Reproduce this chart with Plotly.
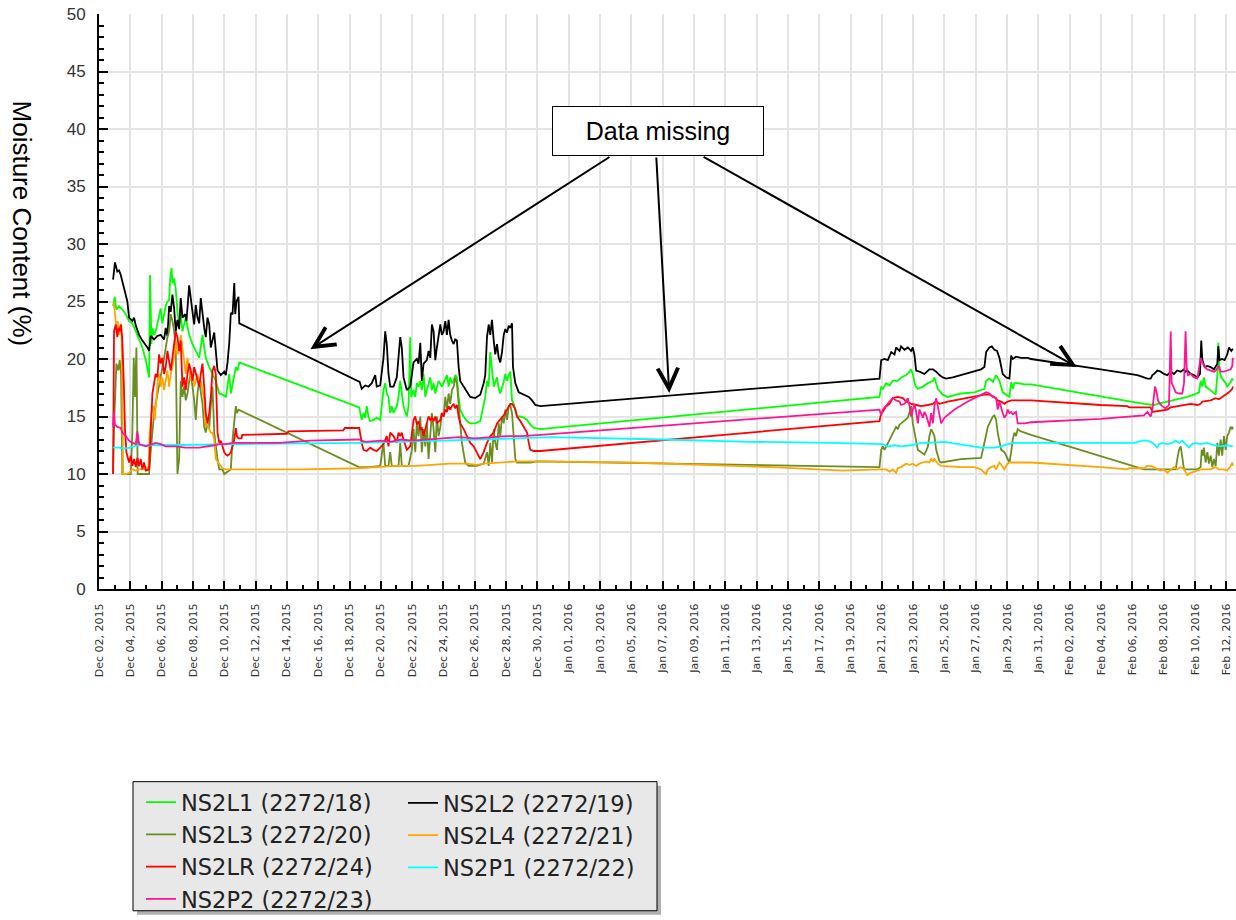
import pandas as pd
import plotly.graph_objects as go

START = pd.Timestamp("2015-12-02")

# x values are day offsets from Dec 02, 2015; y values are moisture content (%)

# NS2L1 (2272/18)
l1_day = [0.90, 1.00, 1.11, 1.28, 1.49, 1.71, 1.92, 2.13, 2.35, 2.56, 2.77, 2.99, 3.20, 3.26, 3.35,
          3.41, 3.52, 3.62, 3.80, 3.94, 4.05, 4.16, 4.26, 4.37, 4.48, 4.54, 4.63, 4.69, 4.80, 4.90,
          5.01, 5.12, 5.22, 5.33, 5.44, 5.54, 5.76, 5.97, 6.18, 6.40, 6.61, 6.72, 6.82, 7.04, 7.25,
          7.46, 7.68, 7.89, 8.10, 8.21, 8.32, 8.42, 8.53, 8.64, 8.74, 8.85, 8.96, 16.62, 16.78, 16.89,
          17.00, 17.10, 17.21, 17.32, 17.53, 17.74, 17.96, 18.06, 18.17, 18.28, 18.38, 18.49, 18.60,
          18.70, 18.81, 19.02, 19.13, 19.24, 19.34, 19.45, 19.66, 19.77, 19.88, 19.94, 20.09, 20.20,
          20.30, 20.41, 20.52, 20.62, 20.73, 20.84, 20.94, 21.16, 21.26, 21.37, 21.48, 21.58, 21.69,
          21.90, 22.01, 22.22, 22.33, 22.43, 22.54, 22.65, 22.75, 22.86, 22.97, 23.07, 23.29, 23.50,
          23.71, 24.03, 24.35, 24.57, 24.67, 24.78, 24.89, 24.99, 25.10, 25.21, 25.42, 25.53, 25.63,
          25.85, 25.95, 26.06, 26.17, 26.27, 26.38, 26.49, 26.70, 26.91, 27.13, 27.34, 27.55, 27.77,
          28.19, 49.85, 49.96, 50.06, 50.28, 50.49, 50.70, 51.02, 51.23, 51.55, 51.77, 51.87, 51.98,
          52.13, 52.30, 52.62, 52.94, 53.26, 53.36, 53.57, 53.89, 54.21, 55.06, 55.91, 56.55, 56.66,
          56.87, 57.09, 57.30, 57.51, 57.72, 57.94, 58.15, 58.26, 58.36, 58.47, 58.68, 59.11, 59.53,
          66.74, 67.17, 67.38, 67.60, 67.91, 68.23, 68.66, 69.09, 69.51, 69.94, 70.26, 70.36, 70.47,
          70.57, 70.68, 70.89, 71.11, 71.32, 71.43, 71.49, 71.57, 71.68, 71.85, 71.96, 72.06, 72.28,
          72.38, 72.42]
l1_val = [24.6, 25.4, 24.3, 24.6, 24.3, 23.9, 23.3, 23.1, 22.4, 21.7, 21.0, 19.9, 18.4, 27.3, 21.3,
          22.7, 22.1, 22.4, 23.6, 24.4, 23.1, 23.9, 24.6, 25.0, 25.1, 26.9, 27.9, 26.6, 27.0, 26.1,
          24.1, 23.0, 23.9, 22.4, 23.0, 23.6, 22.1, 21.3, 20.7, 20.1, 22.1, 21.0, 20.1, 19.3, 18.7,
          18.1, 17.0, 16.9, 16.7, 17.6, 18.7, 17.0, 17.9, 18.7, 19.3, 19.0, 19.7, 15.8, 14.7, 15.3,
          14.9, 15.9, 15.0, 14.6, 14.7, 14.9, 14.7, 15.9, 17.3, 17.9, 17.0, 16.7, 15.3,
          15.9, 15.3, 15.9, 16.7, 18.1, 17.0, 15.9, 15.0, 15.9, 21.9, 16.7, 17.3, 16.7,
          17.9, 17.6, 18.1, 17.3, 18.7, 16.7, 17.3, 18.4, 17.3, 17.9, 17.0, 17.6, 18.1,
          17.6, 17.9, 18.6, 17.6, 18.4, 17.9, 18.1, 18.6, 18.4, 16.7, 15.6, 15.0, 14.6,
          14.4, 14.4, 14.6, 16.1, 16.7, 18.1, 17.6, 20.6, 18.7, 17.6, 18.4, 17.4, 17.0,
          18.0, 18.7, 18.1, 18.6, 18.9, 16.4, 16.1, 15.0, 15.0, 14.9, 14.7, 14.3, 14.0,
          13.9, 16.7, 17.6, 17.4, 17.9, 17.7, 18.1, 18.1, 18.4, 18.6, 18.9, 19.1, 18.7,
          17.7, 17.4, 17.6, 17.9, 18.1, 18.4, 17.4, 16.9, 16.7, 17.0, 17.1, 17.4, 18.1,
          18.3, 18.0, 18.6, 18.1, 17.1, 16.9, 16.7, 18.0, 17.4, 17.9, 17.9, 17.8, 17.8,
          16.1, 16.0, 16.0, 16.1, 16.2, 16.3, 16.4, 16.6, 16.7, 16.9, 17.1, 18.1, 17.6,
          18.4, 17.6, 17.4, 17.1, 16.9, 18.6, 21.4, 19.0, 18.4, 18.1, 17.9, 17.6, 18.0,
          18.3, 18.1]

# NS2L2 (2272/19)
l2_day = [0.90, 1.02, 1.17, 1.28, 1.39, 1.49, 1.60, 1.81, 1.92, 2.13, 2.24, 2.35, 2.56, 2.77, 3.09,
          3.20, 3.30, 3.52, 3.73, 3.94, 4.16, 4.26, 4.37, 4.48, 4.58, 4.69, 4.80, 4.90, 5.01, 5.12,
          5.22, 5.33, 5.50, 5.59, 5.76, 5.86, 5.97, 6.08, 6.18, 6.29, 6.40, 6.50, 6.61, 6.72, 6.82,
          6.93, 7.04, 7.14, 7.36, 7.46, 7.57, 7.78, 8.00, 8.10, 8.21, 8.32, 8.42, 8.53, 8.64, 8.70,
          8.78, 8.91, 8.96, 16.65, 16.78, 17.00, 17.21, 17.42, 17.64, 17.74, 17.96, 18.17, 18.28,
          18.38, 18.49, 18.60, 18.81, 19.02, 19.24, 19.34, 19.45, 19.66, 19.88, 20.09, 20.30, 20.41,
          20.52, 20.62, 20.73, 20.94, 21.05, 21.16, 21.26, 21.37, 21.48, 21.58, 21.80, 21.90, 22.01,
          22.12, 22.22, 22.33, 22.43, 22.54, 22.65, 22.75, 22.86, 22.97, 23.07, 23.29, 23.50, 23.71,
          24.03, 24.35, 24.57, 24.67, 24.78, 24.89, 24.99, 25.10, 25.21, 25.31, 25.42, 25.53, 25.63,
          25.74, 25.85, 25.95, 26.06, 26.17, 26.27, 26.38, 26.44, 26.59, 26.81, 27.13, 27.45, 27.66,
          27.87, 28.19, 49.85, 49.96, 50.17, 50.38, 50.60, 50.81, 50.91, 51.13, 51.23, 51.45, 51.66,
          51.87, 51.98, 52.09, 52.19, 52.40, 52.72, 53.04, 53.26, 53.47, 53.68, 53.89, 54.11, 54.53,
          55.06, 55.70, 56.34, 56.55, 56.66, 56.87, 57.02, 57.19, 57.36, 57.51, 57.72, 57.94, 58.15,
          58.26, 58.36, 58.57, 58.89, 59.32, 59.53, 63.98, 64.83, 65.68, 66.32, 66.74, 66.96, 67.17,
          67.28, 67.38, 67.60, 67.81, 68.02, 68.23, 68.45, 68.66, 68.87, 69.09, 69.30, 69.40, 69.51,
          69.72, 69.94, 70.15, 70.32, 70.40, 70.47, 70.62, 70.79, 71.00, 71.21, 71.43, 71.49, 71.57,
          71.74, 71.89, 72.06, 72.17, 72.32, 72.42]
l2_val = [26.9, 28.4, 27.6, 27.7, 27.3, 26.7, 26.1, 25.0, 23.6, 23.3, 23.6, 22.9, 22.1, 21.6, 21.0,
          20.7, 22.0, 21.7, 22.0, 22.1, 21.7, 22.7, 22.0, 24.6, 24.1, 25.6, 24.4, 22.4, 23.4, 22.6,
          25.3, 23.6, 23.9, 23.3, 26.4, 25.0, 24.1, 23.0, 24.7, 23.6, 23.1, 25.3, 23.9, 22.7, 21.9,
          23.6, 23.0, 21.0, 22.3, 20.3, 19.0, 18.6, 18.9, 18.6, 19.7, 21.4, 24.0, 23.9, 26.6, 23.9,
          25.0, 25.4, 23.1, 18.0, 17.4, 17.7, 17.6, 17.9, 18.6, 17.6, 17.7, 20.1, 22.4,
          21.3, 18.7, 17.6, 17.6, 18.4, 21.9, 21.0, 18.4, 17.3, 17.6, 19.7, 20.0, 19.6,
          21.4, 18.1, 19.6, 19.9, 20.7, 20.1, 23.0, 22.4, 19.9, 21.0, 23.0, 22.1, 22.4,
          23.3, 22.1, 23.4, 22.1, 21.6, 21.3, 21.7, 21.6, 19.3, 18.1, 17.6, 17.1, 16.7,
          16.6, 16.9, 17.9, 18.6, 21.9, 23.0, 22.1, 23.4, 21.6, 20.4, 21.3, 20.1, 19.7,
          20.6, 22.1, 22.6, 22.3, 22.9, 22.7, 23.1, 19.3, 17.9, 17.1, 16.9, 16.7, 16.4,
          16.0, 15.9, 18.3, 19.9, 20.0, 19.9, 20.6, 20.4, 21.0, 20.7, 21.1, 20.8, 21.0,
          20.7, 21.0, 20.3, 19.0, 18.9, 18.7, 19.1, 19.1, 18.9, 18.6, 18.4, 18.3, 18.4,
          18.6, 18.9, 19.1, 19.3, 20.6, 21.0, 21.1, 20.8, 20.7, 20.1, 18.7, 18.4, 18.3,
          20.3, 20.0, 20.2, 20.1, 20.1, 20.0, 19.1, 18.9, 18.7, 18.6, 18.4, 18.3, 18.3,
          18.6, 18.7, 19.0, 18.9, 18.7, 18.6, 18.9, 18.7, 19.0, 18.9, 19.1, 18.9, 19.0,
          18.7, 18.6, 18.4, 18.7, 21.6, 19.9, 19.3, 19.4, 19.3, 19.1, 19.6, 21.1, 19.9,
          20.0, 19.9, 20.4, 21.0, 20.7, 20.9]

# NS2L3 (2272/20)
l3_day = [0.90, 0.96, 1.11, 1.24, 1.32, 1.41, 1.49, 2.03, 2.13, 2.22, 2.30, 2.39, 2.47, 3.20, 3.30,
          3.41, 3.52, 3.62, 3.73, 3.84, 3.94, 4.05, 4.16, 4.26, 4.37, 4.48, 4.58, 4.69, 4.80, 4.90,
          5.01, 5.12, 5.22, 5.33, 5.44, 5.54, 5.65, 5.76, 5.86, 5.97, 6.08, 6.18, 6.29, 6.40, 6.50,
          6.61, 6.72, 6.82, 6.93, 7.04, 7.14, 7.25, 7.36, 7.46, 7.57, 7.68, 7.89, 8.00, 8.42, 8.53,
          8.64, 8.74, 8.81, 8.91, 16.60, 17.32, 17.96, 18.06, 18.17, 18.28, 18.49, 18.60, 18.70,
          19.13, 19.24, 19.34, 19.77, 19.98, 20.09, 20.20, 20.30, 20.41, 20.52, 20.62, 20.73, 20.84,
          20.94, 21.05, 21.16, 21.26, 21.37, 21.48, 21.58, 21.69, 21.80, 21.90, 22.01, 22.12, 22.22,
          22.33, 22.43, 22.54, 22.65, 22.75, 22.86, 22.97, 23.07, 23.18, 23.29, 23.39, 23.61, 24.14,
          24.57, 24.78, 24.89, 24.99, 25.10, 25.21, 25.31, 25.42, 25.53, 25.63, 25.74, 25.85, 25.95,
          26.06, 26.17, 26.27, 26.38, 26.49, 26.59, 26.70, 27.55, 27.98, 49.85, 49.96, 50.06, 50.17,
          50.28, 50.38, 50.49, 50.60, 50.70, 50.81, 50.91, 51.02, 51.13, 51.23, 51.45, 51.66, 51.77,
          51.87, 51.98, 52.09, 52.19, 52.30, 52.51, 52.72, 52.83, 52.94, 53.04, 53.15, 53.26, 53.36,
          53.47, 53.57, 53.68, 53.79, 55.06, 56.34, 56.55, 56.66, 56.77, 56.98, 57.09, 57.19, 57.30,
          57.40, 57.51, 57.62, 57.83, 58.04, 58.15, 58.26, 58.36, 58.47, 58.57, 58.68, 58.89, 59.53,
          66.74, 68.23, 68.77, 68.87, 68.98, 69.09, 69.19, 69.30, 70.15, 70.36, 70.43, 70.51, 70.57,
          70.68, 70.79, 70.89, 71.00, 71.11, 71.21, 71.32, 71.43, 71.53, 71.64, 71.74, 71.85, 71.96,
          72.06, 72.17, 72.28, 72.38, 72.42]
l3_val = [10.0, 14.1, 19.6, 19.0, 19.9, 18.7, 10.0, 10.0, 13.6, 20.1, 16.7, 21.0, 10.0, 10.0, 11.9,
          13.9, 15.3, 16.1, 17.0, 17.9, 18.4, 19.3, 20.1, 21.0, 21.9, 22.4, 23.9, 23.3, 22.4, 21.0,
          10.0, 11.3, 18.1, 16.7, 17.6, 16.4, 17.0, 18.1, 18.7, 17.6, 16.4, 14.7, 17.0, 18.1, 17.0,
          16.1, 14.1, 13.6, 14.4, 14.0, 15.9, 17.6, 13.6, 12.4, 11.3, 10.4, 10.4, 10.0, 10.4, 13.0,
          14.4, 15.9, 15.3, 15.6, 10.6, 10.6, 10.7, 11.9, 12.7, 10.7, 10.7, 11.9, 10.7,
          10.7, 12.7, 10.7, 10.7, 12.1, 13.9, 11.9, 14.4, 13.3, 15.0, 11.9, 13.9, 12.4,
          14.4, 11.3, 13.3, 15.3, 13.9, 11.9, 15.0, 13.3, 14.1, 15.3, 15.0, 16.7, 15.6,
          17.0, 16.1, 17.3, 17.6, 18.4, 17.9, 16.4, 14.4, 12.7, 11.6, 11.0, 10.7, 10.7,
          10.9, 11.9, 10.7, 12.7, 11.0, 13.9, 12.7, 12.1, 14.4, 13.3, 15.0, 14.4, 15.6,
          14.7, 15.9, 16.0, 15.3, 13.3, 11.3, 11.0, 11.0, 11.1, 10.6, 12.1, 12.4, 12.1,
          12.4, 12.6, 12.9, 13.3, 13.6, 13.9, 14.1, 13.9, 14.3, 14.4, 14.7, 14.9, 15.4,
          15.9, 14.4, 13.6, 12.7, 12.1, 11.9, 11.7, 12.0, 12.4, 13.3, 13.9, 13.6, 13.3,
          12.1, 11.6, 11.1, 11.0, 11.3, 11.4, 12.7, 13.6, 14.1, 14.7, 15.0, 15.1, 14.7,
          13.6, 12.7, 12.1, 11.9, 11.3, 11.0, 11.9, 13.0, 13.6, 13.3, 13.9, 13.7, 13.4,
          10.4, 10.4, 10.4, 11.3, 12.1, 12.4, 11.6, 10.4, 10.4, 10.6, 12.1, 11.6, 12.3,
          11.0, 11.9, 10.9, 11.6, 10.6, 11.3, 10.7, 12.7, 11.6, 13.0, 11.6, 13.3, 12.1,
          13.3, 13.6, 14.1, 13.9, 14.1]

# NS2L4 (2272/21)
l4_day = [0.94, 1.02, 1.11, 1.19, 1.28, 1.36, 1.45, 1.54, 1.71, 1.92, 2.13, 2.35, 2.56, 2.77, 2.99,
          3.16, 3.24, 3.35, 3.45, 3.56, 3.67, 3.75, 3.84, 3.94, 4.05, 4.16, 4.26, 4.37, 4.48, 4.58,
          4.69, 4.80, 4.90, 5.01, 5.12, 5.22, 5.33, 5.44, 5.54, 5.65, 5.76, 5.86, 5.97, 6.08, 6.18,
          6.29, 6.40, 6.50, 6.61, 6.72, 6.82, 6.93, 7.04, 7.14, 7.25, 7.36, 7.46, 7.68, 7.78, 7.89,
          8.10, 13.00, 16.60, 17.96, 19.00, 20.30, 22.40, 23.50, 24.10, 24.60, 25.60, 26.70, 28.19,
          34.00, 43.00, 47.50, 49.85, 50.06, 50.28, 50.49, 50.70, 50.91, 51.02, 51.23, 51.34, 51.55,
          51.77, 51.98, 52.19, 52.40, 52.62, 52.83, 53.04, 53.15, 53.26, 53.36, 53.47, 53.57, 53.79,
          55.06, 55.91, 56.34, 56.55, 56.66, 56.77, 56.98, 57.19, 57.30, 57.40, 57.51, 57.62, 57.72,
          57.83, 57.94, 58.04, 58.15, 58.68, 59.53, 63.98, 65.68, 65.79, 66.74, 66.96, 67.17, 67.38,
          67.60, 67.81, 68.02, 68.23, 68.45, 68.66, 68.87, 69.09, 69.30, 69.40, 69.51, 69.72, 69.94,
          70.15, 70.36, 70.57, 71.00, 71.32, 71.53, 71.85, 72.06, 72.28, 72.38, 72.42]
l4_val = [25.0, 24.1, 22.7, 23.3, 22.1, 23.0, 21.9, 10.0, 10.0, 10.1, 10.4, 10.3, 10.4, 10.4, 10.4,
          10.6, 13.6, 15.3, 15.9, 14.7, 16.7, 18.1, 18.7, 17.6, 18.4, 17.3, 18.1, 19.0, 17.6, 18.7,
          19.3, 20.1, 21.6, 20.4, 20.7, 22.1, 21.0, 19.6, 18.7, 20.1, 19.3, 18.1, 18.7, 17.6, 18.1,
          18.7, 17.9, 18.1, 17.3, 16.4, 14.1, 14.4, 13.9, 13.6, 13.6, 13.0, 11.3, 10.9, 10.7, 10.5,
          10.4, 10.4, 10.5, 10.6, 10.7, 10.7, 10.9, 10.9, 10.8, 10.9, 11.0, 11.1, 11.1,
          11.0, 10.6, 10.3, 10.4, 10.4, 10.4, 10.2, 10.4, 10.1, 10.5, 10.6, 10.7, 10.9,
          10.8, 10.9, 10.7, 10.9, 11.0, 11.1, 11.0, 11.3, 11.1, 11.3, 11.1, 10.9, 10.7,
          10.6, 10.6, 10.4, 10.1, 10.0, 10.4, 10.6, 10.7, 10.4, 10.7, 11.0, 10.8, 10.6,
          10.4, 10.7, 10.9, 11.0, 11.0, 11.0, 10.6, 10.4, 10.5, 10.5, 10.7, 10.7, 10.6,
          10.4, 10.3, 10.4, 10.1, 10.4, 10.6, 10.4, 10.6, 10.4, 10.1, 9.9, 10.1, 10.2,
          10.3, 10.4, 10.4, 10.4, 10.6, 10.4, 10.4, 10.3, 10.7, 11.0, 10.7]

# NS2LR (2272/24)
lr_day = [0.90, 0.96, 1.07, 1.17, 1.24, 1.32, 1.41, 1.49, 1.58, 1.66, 1.75, 1.92, 2.03, 2.13, 2.24,
          2.35, 2.45, 2.56, 2.67, 2.77, 2.88, 2.99, 3.20, 3.30, 3.41, 3.52, 3.62, 3.73, 3.84, 3.94,
          4.05, 4.16, 4.26, 4.37, 4.48, 4.58, 4.69, 4.80, 4.90, 5.01, 5.12, 5.22, 5.33, 5.44, 5.54,
          5.65, 5.76, 5.86, 5.97, 6.08, 6.18, 6.29, 6.40, 6.50, 6.61, 6.72, 6.82, 6.93, 7.04, 7.14,
          7.25, 7.36, 7.46, 7.57, 7.68, 7.78, 7.89, 8.00, 8.10, 8.21, 8.32, 8.42, 8.53, 8.64, 8.74,
          8.81, 8.91, 9.10, 9.15, 12.00, 12.10, 15.60, 15.70, 16.62, 16.78, 16.89, 17.10, 17.32,
          17.53, 17.74, 17.96, 18.17, 18.38, 18.49, 18.60, 18.81, 19.02, 19.13, 19.24, 19.34, 19.45,
          19.66, 19.88, 20.09, 20.20, 20.30, 20.41, 20.52, 20.62, 20.73, 20.84, 20.94, 21.05, 21.16,
          21.26, 21.37, 21.48, 21.58, 21.80, 21.90, 22.01, 22.12, 22.22, 22.33, 22.43, 22.54, 22.65,
          22.75, 22.86, 22.97, 23.07, 23.29, 23.50, 23.71, 23.93, 24.14, 24.35, 24.57, 24.78, 24.99,
          25.21, 25.42, 25.63, 25.85, 26.06, 26.17, 26.27, 26.38, 26.49, 26.59, 26.70, 26.91, 27.13,
          27.34, 27.45, 27.55, 27.77, 28.19, 49.85, 49.96, 50.06, 50.28, 50.49, 50.70, 51.02, 51.34,
          51.55, 51.87, 52.19, 52.51, 52.94, 53.26, 53.47, 53.68, 54.21, 55.06, 55.91, 56.55, 56.87,
          57.19, 57.40, 57.62, 57.83, 58.04, 58.26, 58.68, 59.53, 63.98, 65.68, 65.79, 67.17, 67.28,
          67.81, 68.23, 68.45, 68.87, 69.30, 69.72, 70.15, 70.36, 70.47, 70.79, 71.00, 71.32, 71.53,
          71.74, 71.96, 72.17, 72.38, 72.42]
lr_val = [10.0, 22.4, 23.0, 21.9, 22.7, 22.4, 23.0, 21.6, 18.1, 13.9, 11.9, 11.0, 11.6, 10.7, 11.3,
          10.6, 11.4, 10.7, 11.3, 10.4, 11.0, 10.3, 10.4, 13.6, 17.0, 17.9, 18.7, 18.4, 20.4, 19.6,
          20.1, 18.7, 19.3, 20.7, 19.6, 19.0, 20.1, 21.6, 22.4, 21.9, 20.7, 21.6, 17.6, 18.4, 17.3,
          18.7, 19.6, 19.0, 18.1, 19.3, 18.7, 18.1, 17.6, 18.7, 19.6, 17.6, 15.3, 14.4, 15.3, 16.7,
          19.0, 19.4, 18.7, 13.6, 12.7, 12.9, 12.4, 11.9, 11.7, 11.6, 11.7, 11.9, 12.4, 13.0, 14.0,
          13.3, 13.1, 13.1, 13.4, 13.5, 13.7, 13.8, 14.0, 14.0, 12.7, 12.1, 12.0, 12.3,
          12.1, 12.0, 12.3, 12.6, 13.3, 12.4, 13.6, 13.3, 12.7, 13.6, 13.3, 13.6, 13.0,
          12.1, 12.4, 14.7, 15.0, 14.3, 14.6, 13.9, 14.0, 13.3, 13.9, 14.4, 15.0, 14.7,
          14.9, 14.6, 15.0, 14.4, 14.7, 15.3, 15.0, 15.6, 15.4, 15.9, 15.6, 15.9, 16.1,
          15.7, 16.0, 15.0, 14.4, 13.9, 13.3, 12.7, 12.4, 11.9, 11.3, 11.9, 12.7, 13.3,
          13.6, 14.4, 14.7, 15.1, 15.6, 15.9, 16.1, 16.1, 15.9, 15.6, 15.0, 14.6, 14.1,
          13.6, 12.7, 12.1, 12.0, 12.0, 14.6, 15.3, 15.4, 15.9, 16.1, 16.6, 16.7, 16.6,
          16.3, 16.1, 16.0, 15.9, 16.0, 16.1, 16.3, 16.1, 16.3, 16.5, 16.7, 16.9, 16.9,
          16.7, 16.4, 16.3, 16.1, 16.3, 16.4, 16.4, 16.4, 16.0, 15.9, 15.8, 15.8, 15.4,
          15.5, 15.6, 15.8, 15.9, 16.0, 16.1, 16.0, 16.1, 16.3, 16.4, 16.4, 16.6, 16.5,
          16.7, 16.9, 17.1, 17.4, 17.6]

# NS2P1 (2272/22)
p1_day = [0.90, 1.30, 1.60, 2.00, 2.45, 4.00, 9.00, 16.60, 22.00, 28.90, 36.00, 41.60, 46.90, 49.85,
          50.06, 50.38, 50.81, 51.23, 51.87, 52.51, 52.94, 54.00, 54.43, 55.06, 55.91, 56.34, 57.19,
          57.62, 58.04, 58.47, 59.53, 63.98, 66.11, 66.64, 66.96, 67.17, 67.38, 67.60, 67.70, 67.91,
          68.23, 68.55, 68.77, 68.98, 69.19, 69.40, 69.62, 69.83, 70.04, 70.36, 70.79, 71.21, 71.64,
          72.06, 72.38, 72.42]
p1_val = [12.3, 12.3, 12.2, 12.3, 12.5, 12.5, 12.6, 12.7, 12.9, 13.2, 13.0, 12.8, 12.7, 12.6,
          12.6, 12.4, 12.5, 12.4, 12.5, 12.7, 12.7, 12.8, 12.7, 12.6, 12.4, 12.3, 12.3,
          12.4, 12.6, 12.7, 12.7, 12.7, 12.7, 12.9, 12.9, 12.8, 12.6, 12.3, 12.6, 12.7,
          12.6, 12.7, 12.9, 12.7, 12.9, 12.6, 12.3, 12.6, 12.7, 12.6, 12.7, 12.5, 12.4,
          12.5, 12.4, 12.4]

# NS2P2 (2272/23)
p2_day = [0.90, 0.94, 1.02, 1.17, 1.39, 1.49, 1.71, 1.92, 2.13, 2.35, 2.45, 2.56, 2.99, 3.41, 3.62,
          3.94, 4.26, 4.90, 5.54, 6.40, 7.04, 7.36, 7.68, 8.10, 8.53, 8.96, 11.50, 13.50, 16.60,
          17.00, 18.00, 18.60, 19.30, 20.00, 21.00, 22.00, 23.00, 24.00, 25.00, 26.00, 27.00, 28.20,
          49.85, 49.96, 50.06, 50.28, 50.49, 50.70, 50.91, 51.13, 51.23, 51.45, 51.66, 51.77, 51.87,
          51.98, 52.09, 52.19, 52.30, 52.40, 52.51, 52.62, 52.72, 52.83, 52.94, 53.04, 53.15, 53.26,
          53.36, 53.47, 53.57, 53.68, 53.79, 54.00, 54.64, 55.49, 56.34, 56.66, 56.87, 57.09, 57.30,
          57.40, 57.51, 57.62, 57.72, 57.83, 57.94, 58.04, 58.15, 58.26, 58.36, 58.57, 58.68, 59.11,
          59.53, 63.98, 65.68, 66.74, 66.96, 67.17, 67.28, 67.38, 67.45, 67.55, 67.64, 67.77, 67.91,
          68.13, 68.34, 68.45, 68.51, 68.62, 68.77, 68.98, 69.19, 69.30, 69.40, 69.47, 69.55, 69.72,
          69.94, 70.15, 70.36, 70.47, 70.62, 70.79, 71.00, 71.21, 71.32, 71.53, 71.64, 71.85, 72.06,
          72.28, 72.38, 72.42]
p2_val = [14.1, 15.4, 14.3, 14.1, 14.0, 13.6, 13.3, 12.9, 12.7, 12.6, 13.7, 12.6, 12.4, 12.6, 12.7,
          12.6, 12.4, 12.4, 12.3, 12.3, 12.4, 12.5, 12.6, 12.6, 12.7, 12.7, 12.7, 12.9, 13.0,
          12.8, 12.9, 12.8, 13.0, 12.9, 13.0, 13.1, 13.2, 13.1, 13.2, 13.3, 13.3, 13.4,
          15.6, 15.1, 15.6, 16.0, 16.3, 16.6, 16.4, 16.3, 16.0, 16.1, 16.6, 15.9, 15.0,
          15.6, 16.1, 15.4, 14.4, 15.6, 15.3, 14.9, 15.4, 15.1, 14.6, 14.1, 15.3, 14.4,
          15.9, 16.6, 15.9, 15.0, 14.4, 14.9, 15.6, 16.3, 16.9, 17.1, 17.0, 16.7, 16.6,
          15.6, 16.3, 15.7, 15.3, 14.9, 15.1, 15.6, 15.3, 15.4, 15.2, 15.4, 14.4, 14.4,
          14.5, 14.8, 15.0, 15.1, 15.4, 15.0, 15.6, 16.7, 17.6, 17.1, 16.4, 16.1, 15.9,
          15.7, 16.0, 22.4, 17.9, 17.6, 17.1, 17.0, 17.0, 17.9, 22.4, 19.3, 18.6, 18.7,
          18.4, 18.3, 20.1, 19.7, 19.3, 19.1, 19.0, 18.9, 19.0, 19.4, 18.9, 18.9, 19.0,
          19.1, 19.4, 20.1]

SERIES = [
    ("NS2L1 (2272/18)", l1_day, l1_val, "#00ff00", "legend"),
    ("NS2L2 (2272/19)", l2_day, l2_val, "#000000", "legend2"),
    ("NS2L3 (2272/20)", l3_day, l3_val, "#6b8e23", "legend"),
    ("NS2L4 (2272/21)", l4_day, l4_val, "#ffa500", "legend2"),
    ("NS2LR (2272/24)", lr_day, lr_val, "#ff0000", "legend"),
    ("NS2P1 (2272/22)", p1_day, p1_val, "#00ffff", "legend2"),
    ("NS2P2 (2272/23)", p2_day, p2_val, "#ff1493", "legend"),
]


def to_dates(days):
    return START + pd.to_timedelta(pd.Series(days, dtype=float), unit="D")


fig = go.Figure()
for name, days, vals, color, leg in SERIES:
    fig.add_trace(go.Scatter(
        x=to_dates(days), y=vals,
        mode="lines", name=name, legend=leg,
        line=dict(color=color, width=1.8),
    ))

# plot area on the page: x 99..1236, y 14..593
W, H = 1236, 920
PL, PW, PT, PH = 99, 1137, 14, 579


def px(x):
    return (x - PL) / PW


def py(y):
    return (PT + PH - y) / PH


def day(d):
    return START + pd.Timedelta(days=d)


# legend frame (shadow + box)
fig.add_shape(type="rect", xref="paper", yref="paper",
              x0=px(137), x1=px(661), y0=py(921), y1=py(791),
              fillcolor="#b0b0b0", line=dict(width=0), layer="below")
fig.add_shape(type="rect", xref="paper", yref="paper",
              x0=px(133), x1=px(657), y0=py(917), y1=py(787),
              fillcolor="#e8e8e8", line=dict(color="black", width=1), layer="below")

legend_common = dict(
    bgcolor="rgba(0,0,0,0)", borderwidth=0,
    font=dict(family="DejaVu Sans, Verdana, sans-serif", size=22.5, color="#222"),
    orientation="v", xanchor="left", yanchor="top", tracegroupgap=0,
)

# "Data missing" callout
ann = [dict(
    x=day(35.71), y=39.8, xref="x", yref="y",
    text="Data missing", showarrow=False,
    font=dict(family="Arial, Liberation Sans, sans-serif", size=25, color="black"),
    bgcolor="white", bordercolor="black", borderwidth=1,
    width=208, height=46,
)]
for tip_d, tip_v, tail_d in [(13.50, 20.85, 32.70), (36.42, 17.05, 35.59), (62.45, 19.30, 38.52)]:
    ann.append(dict(
        x=day(tip_d), y=tip_v, xref="x", yref="y",
        ax=day(tail_d), ay=37.65, axref="x", ayref="y",
        text="", showarrow=True, arrowhead=5, arrowsize=2, arrowwidth=2,
        arrowcolor="black", standoff=0, startstandoff=0,
        font=dict(size=1),
    ))
ann.append(dict(
    x=px(22), y=py(225), xref="paper", yref="paper",
    xanchor="center", yanchor="middle",
    text="Moisture Content (%)", textangle=90, showarrow=False,
    font=dict(family="Arial, Liberation Sans, sans-serif", size=26, color="black"),
))

fig.update_layout(
    width=W, height=H,
    margin=dict(l=PL, r=W - PL - PW, t=PT, b=H - PT - PH),
    plot_bgcolor="white", paper_bgcolor="white",
    showlegend=True,
    legend=dict(x=px(141), y=py(787), **legend_common),
    legend2=dict(x=px(403), y=py(787), **legend_common),
    annotations=ann,
)
fig.update_xaxes(
    type="date", range=[day(0), day(72.62)],
    tick0="2015-12-02", dtick=2 * 86400000, tickformat="%b %d, %Y", tickangle=-90,
    tickfont=dict(family="DejaVu Sans, Verdana, sans-serif", size=11, color="#333"),
    ticklabelstandoff=8, ticklabeloverflow="allow",
    showgrid=True, gridcolor="#e4e4e4", gridwidth=2, zeroline=False,
    showline=True, linecolor="black", linewidth=2,
    ticks="inside", ticklen=8, tickwidth=1.5, tickcolor="black",
    minor=dict(dtick=86400000, ticks="inside", ticklen=4, tickwidth=1.5,
               tickcolor="black", showgrid=False),
)
fig.update_yaxes(
    range=[0, 50], dtick=5,
    tickfont=dict(family="Arial, Liberation Sans, sans-serif", size=17, color="#333"),
    ticklabelstandoff=8, ticklabeloverflow="allow",
    showgrid=True, gridcolor="#e4e4e4", gridwidth=2, zeroline=False,
    showline=True, linecolor="black", linewidth=2,
    ticks="inside", ticklen=9, tickwidth=1.5, tickcolor="black",
    minor=dict(dtick=1, ticks="inside", ticklen=5, tickwidth=1.5,
               tickcolor="black", showgrid=False),
)

# drop the default 8px body margin so the figure sits at the page origin
fig.write_html("out.html", config={"displayModeBar": False},
               post_script="document.body.style.margin='0';")
